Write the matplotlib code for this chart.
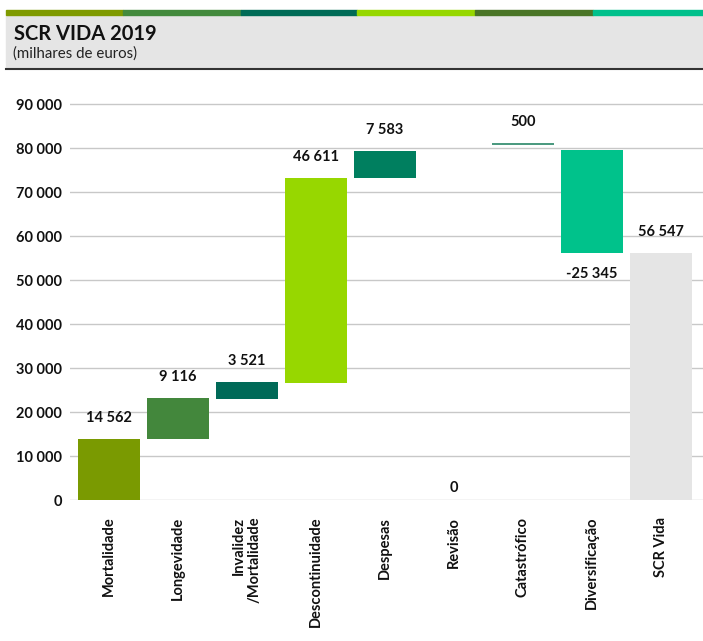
import matplotlib
matplotlib.use("Agg")
import matplotlib.pyplot as plt
from matplotlib.patches import Rectangle

plt.rcParams['font.family'] = ['Lato', 'DejaVu Sans']

# dados (milhares de euros)
categorias = ['Mortalidade', 'Longevidade', 'Invalidez\n/Mortalidade', 'Descontinuidade',
              'Despesas', 'Revisão', 'Catastrófico', 'Diversificação', 'SCR Vida']
valores = [14562, 9116, 3521, 46611, 7583, 0, 500, -25345, 56547]
# inicio e fim de cada barra
inicio = [0, 13900, 23000, 26700, 73200, 0, 80700, 79500, 0]
fim = [13900, 23200, 26800, 73200, 79300, 0, 81200, 56200, 56200]
cores = ['#7a9a01', '#43873c', '#006a58', '#97d700', '#007f5f',
         '#007f5f', '#4c9a80', '#00c28b', '#e5e5e5']
faixa = ['#7f9a00', '#438a3d', '#006b56', '#96d700', '#4a7526', '#00c08b']

def fmt(v):
    s = '{:,}'.format(abs(v)).replace(',', ' ')
    return ('-' if v < 0 else '') + s

fig = plt.figure(figsize=(7.03, 6.41), dpi=100)
W, H = 703.0, 641.0
peso = 'bold'

# cabecalho
fig.patches.append(Rectangle((6 / W, 1 - 68 / H), 1 - 6 / W, 53 / H,
                             transform=fig.transFigure, color='#e5e5e5', zorder=0))
fig.lines.append(plt.Line2D([6 / W, 1], [1 - 68.5 / H, 1 - 68.5 / H],
                            transform=fig.transFigure, color='#333333', lw=1.5))
bordas = [6, 123, 241, 357, 475, 593, 703]
for k, c in enumerate(faixa):
    fig.patches.append(Rectangle((bordas[k] / W, 1 - 15 / H), (bordas[k + 1] - bordas[k]) / W, 5 / H,
                                 transform=fig.transFigure, color=c, zorder=1))
fig.text(14 / W, 1 - 40 / H, 'SCR VIDA 2019', fontsize=14.5, fontweight=peso,
         color='#111111', va='baseline')
fig.text(13 / W, 1 - 58 / H, '(milhares de euros)', fontsize=10.8, color='#222222', va='baseline')

ax = fig.add_axes([70 / W, 1 - 500 / H, 1 - 70 / W, 404.8 / H])
x = list(range(len(categorias)))
alturas = [f - i for i, f in zip(inicio, fim)]
ax.bar(x, alturas, bottom=inicio, width=0.9, color=cores, zorder=2)

for i, v in enumerate(valores):
    if v < 0:
        y, off = min(inicio[i], fim[i]), -15
    elif v == 0:
        y, off = 0, 9
    else:
        y, off = max(inicio[i], fim[i]), 15
    ax.annotate(fmt(v), (i, y), xytext=(0, off), textcoords='offset points',
                ha='center', va='center', fontsize=10.5, fontweight=peso, color='#111111')

ax.set_xlim(-0.565, 8.61)
ax.set_ylim(0, 92000)
ax.set_yticks(range(0, 90001, 10000))
ax.set_yticklabels([fmt(t) for t in range(0, 90001, 10000)], fontsize=10.5,
                   fontweight=peso, color='#111111')
ax.set_xticks(x)
ax.set_xticklabels(categorias, rotation=90, fontsize=10.5, fontweight=peso,
                   color='#111111', va='top', ha='center', multialignment='right')
ax.tick_params(length=0, axis='y', pad=6)
ax.tick_params(length=0, axis='x', pad=12)
ax.grid(axis='y', color='#c8c8c8', lw=1)
ax.set_axisbelow(True)
for s in ax.spines.values():
    s.set_visible(False)

fig.savefig('out.png', dpi=100)
